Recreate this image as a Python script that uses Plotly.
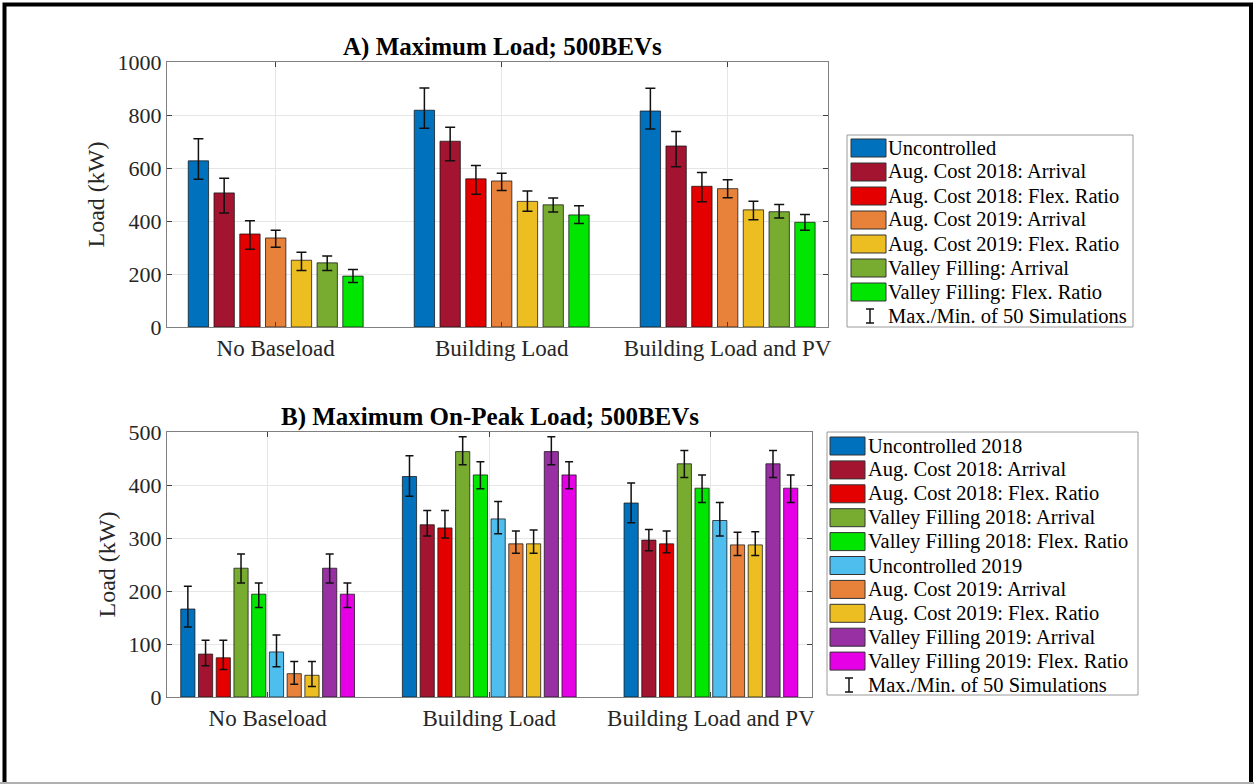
import plotly.graph_objects as go

W, H = 1254, 784
FONT = "Liberation Serif"

categories = ["No Baseload", "Building Load", "Building Load and PV"]

# ---- Panel A: maximum load ----
a_names = [
    "Uncontrolled",
    "Aug. Cost 2018: Arrival",
    "Aug. Cost 2018: Flex. Ratio",
    "Aug. Cost 2019: Arrival",
    "Aug. Cost 2019: Flex. Ratio",
    "Valley Filling: Arrival",
    "Valley Filling: Flex. Ratio",
]
a_colors = ["#0072BD", "#A2142F", "#E50000", "#E8823A", "#EDBE22", "#77AC30", "#00E600"]
a_mean = [
    [627, 818, 815],
    [506, 701, 683],
    [351, 559, 531],
    [336, 551, 522],
    [252, 474, 442],
    [242, 461, 435],
    [192, 423, 395],
]
a_max = [
    [710, 902, 901],
    [561, 754, 738],
    [401, 609, 583],
    [365, 580, 556],
    [282, 513, 475],
    [268, 487, 462],
    [217, 458, 425],
]
a_min = [
    [558, 750, 747],
    [430, 627, 605],
    [293, 501, 473],
    [301, 515, 488],
    [213, 437, 405],
    [213, 434, 411],
    [168, 391, 365],
]

# ---- Panel B: maximum on-peak load ----
b_names = [
    "Uncontrolled 2018",
    "Aug. Cost 2018: Arrival",
    "Aug. Cost 2018: Flex. Ratio",
    "Valley Filling 2018: Arrival",
    "Valley Filling 2018: Flex. Ratio",
    "Uncontrolled 2019",
    "Aug. Cost 2019: Arrival",
    "Aug. Cost 2019: Flex. Ratio",
    "Valley Filling 2019: Arrival",
    "Valley Filling 2019: Flex. Ratio",
]
b_colors = ["#0072BD", "#A2142F", "#E50000", "#77AC30", "#00E600",
            "#4DBEEE", "#E8823A", "#EDBE22", "#982FA3", "#E600E6"]
b_mean = [
    [166, 416, 366],
    [81, 325, 296],
    [74, 319, 289],
    [243, 463, 440],
    [194, 419, 394],
    [85, 336, 333],
    [44, 289, 287],
    [41, 289, 287],
    [243, 463, 440],
    [194, 419, 394],
]
b_max = [
    [209, 455, 404],
    [107, 352, 316],
    [107, 352, 313],
    [270, 491, 465],
    [215, 444, 419],
    [117, 369, 367],
    [67, 313, 311],
    [67, 315, 312],
    [270, 491, 465],
    [215, 444, 419],
]
b_min = [
    [132, 379, 329],
    [59, 304, 276],
    [52, 300, 272],
    [215, 438, 414],
    [169, 393, 367],
    [57, 308, 304],
    [24, 271, 267],
    [20, 271, 267],
    [215, 438, 414],
    [169, 393, 367],
]

errbar_label = "Max./Min. of 50 Simulations"

xpos = [1, 2, 3]


def px(x):
    return x / W


def py(y):
    return 1 - y / H


fig = go.Figure()


def add_group(names, colors, mean, mx, mn, pitch, width, xa, ya, capw):
    n = len(names)
    for i in range(n):
        off = -n * pitch / 2 + i * pitch + (pitch - width) / 2
        fig.add_trace(go.Bar(
            x=xpos, y=mean[i], name=names[i],
            width=width, offset=off,
            marker=dict(color=colors[i], line=dict(color="rgba(20,20,20,0.75)", width=1)),
            error_y=dict(type="data", symmetric=False,
                         array=[h - m for h, m in zip(mx[i], mean[i])],
                         arrayminus=[m - l for m, l in zip(mean[i], mn[i])],
                         color="#111111", thickness=1.5, width=capw),
            xaxis=xa, yaxis=ya, showlegend=False,
        ))


add_group(a_names, a_colors, a_mean, a_max, a_min, 0.114, 0.09, "x", "y", 5)
add_group(b_names, b_colors, b_mean, b_max, b_min, 0.08, 0.064, "x2", "y2", 4)

axis_common = dict(
    showline=True, linecolor="#808080", linewidth=1, mirror="ticks",
    ticks="inside", ticklen=5, tickcolor="#404040",
    showgrid=True, gridcolor="#E6E6E6", gridwidth=1, zeroline=False,
    tickfont=dict(family=FONT, size=22, color="#262626"),
)
xtickfont = dict(family=FONT, size=23, color="#262626")

fig.update_layout(
    width=W, height=H,
    margin=dict(l=0, r=0, t=0, b=0, autoexpand=False),
    paper_bgcolor="white", plot_bgcolor="white",
    barmode="overlay", showlegend=False,
    font=dict(family=FONT, color="#262626"),
    xaxis=dict(domain=[px(167), px(828)], range=[0.519, 3.444],
               tickvals=xpos, ticktext=categories, anchor="y", **axis_common),
    yaxis=dict(domain=[py(327), py(62)], range=[0, 1000], dtick=200, anchor="x",
               title=dict(text="Load (kW)", font=dict(family=FONT, size=24, color="#262626"), standoff=6),
               **axis_common),
    xaxis2=dict(domain=[px(167), px(812)], range=[0.546, 3.456],
                tickvals=xpos, ticktext=categories, anchor="y2", **axis_common),
    yaxis2=dict(domain=[py(697), py(432)], range=[0, 500], dtick=100, anchor="x2",
                title=dict(text="Load (kW)", font=dict(family=FONT, size=24, color="#262626"), standoff=6),
                **axis_common),
)
fig.update_xaxes(tickfont=xtickfont)

# Panel titles
fig.add_annotation(text="<b>A) Maximum Load; 500BEVs</b>", x=px(502), y=py(47),
                   xref="paper", yref="paper", xanchor="center", yanchor="middle", showarrow=False,
                   font=dict(family=FONT, size=25, color="black"))
fig.add_annotation(text="<b>B) Maximum On-Peak Load; 500BEVs</b>", x=px(490), y=py(417),
                   xref="paper", yref="paper", xanchor="center", yanchor="middle", showarrow=False,
                   font=dict(family=FONT, size=25, color="black"))

shapes = []


def draw_legend(names, colors, box, sw_x0, text_x, row0, pitch):
    x0, y0, x1, y1 = box
    shapes.append(dict(type="rect", xref="paper", yref="paper",
                       x0=px(x0), x1=px(x1), y0=py(y1), y1=py(y0),
                       line=dict(color="#9a9a9a", width=1), fillcolor="white", layer="above"))
    for i, (nm, col) in enumerate(zip(names, colors)):
        yc = row0 + i * pitch
        shapes.append(dict(type="rect", xref="paper", yref="paper",
                           x0=px(sw_x0), x1=px(sw_x0 + 35), y0=py(yc + 9), y1=py(yc - 9),
                           line=dict(color="#333333", width=1), fillcolor=col, layer="above"))
        fig.add_annotation(text=nm, x=px(text_x), y=py(yc), xref="paper", yref="paper",
                           xanchor="left", yanchor="middle", showarrow=False,
                           font=dict(family=FONT, size=20.5, color="black"))
    # error bar symbol row
    yc = row0 + len(names) * pitch
    xc = sw_x0 + 19
    for seg in [(xc, yc - 7, xc, yc + 7), (xc - 4, yc - 7, xc + 4, yc - 7), (xc - 4, yc + 7, xc + 4, yc + 7)]:
        shapes.append(dict(type="line", xref="paper", yref="paper",
                           x0=px(seg[0]), y0=py(seg[1]), x1=px(seg[2]), y1=py(seg[3]),
                           line=dict(color="#111111", width=1.5), layer="above"))
    fig.add_annotation(text=errbar_label, x=px(text_x), y=py(yc), xref="paper", yref="paper",
                       xanchor="left", yanchor="middle", showarrow=False,
                       font=dict(family=FONT, size=20.5, color="black"))


draw_legend(a_names, a_colors, (847, 135, 1133, 327), 851, 886, 148, 24)
draw_legend(b_names, b_colors, (827, 432, 1138, 695), 830, 866, 446, 23.9)

# outer frame
shapes.append(dict(type="rect", xref="paper", yref="paper",
                   x0=px(4.5), x1=px(1251), y0=py(792), y1=py(4.5),
                   line=dict(color="black", width=4), layer="above"))
shapes.append(dict(type="line", xref="paper", yref="paper",
                   x0=px(0), x1=px(W), y0=py(783), y1=py(783),
                   line=dict(color="#b0b0b0", width=2), layer="above"))

fig.update_layout(shapes=shapes)

fig.write_html("out.html")
